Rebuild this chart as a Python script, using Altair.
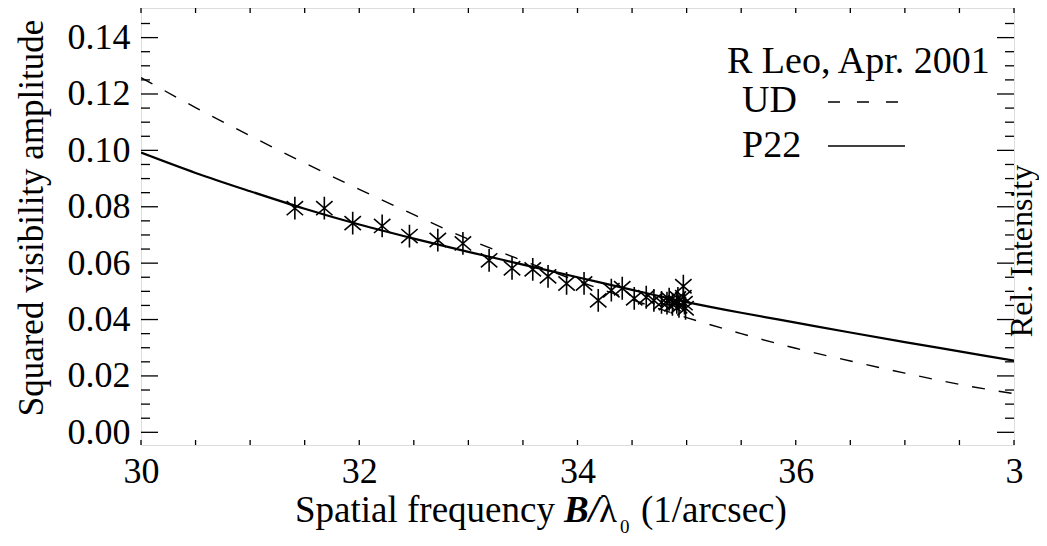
import altair as alt
import pandas as pd

# ---- data ----
grid_x = [30.0, 30.5, 31.0, 31.5, 32.0, 32.5, 33.0, 33.5, 34.0, 34.5,
          35.0, 35.5, 36.0, 36.5, 37.0, 37.5, 38.0]
ud_vals = [0.1258, 0.1152, 0.1052, 0.0955, 0.0862, 0.0772, 0.0685, 0.0609, 0.0537, 0.0470,
           0.0407, 0.0350, 0.0298, 0.0253, 0.0210, 0.0170, 0.0137]
p22_vals = [0.0992, 0.0920, 0.0855, 0.0793, 0.0737, 0.0687, 0.0640, 0.0595, 0.0550, 0.0505,
            0.0462, 0.0424, 0.0389, 0.0354, 0.0320, 0.0287, 0.0254]

obs_x = [31.41, 31.68, 31.94, 32.21, 32.46, 32.72, 32.95, 33.19, 33.40, 33.59,
         33.73, 33.90, 34.06, 34.19, 34.31, 34.41, 34.52, 34.63, 34.70, 34.77,
         34.82, 34.87, 34.91, 34.93, 34.97, 34.97, 34.98, 34.99, 34.84, 34.92]
obs_y = [0.0795, 0.0795, 0.0742, 0.0732, 0.0696, 0.0682, 0.0670, 0.0610, 0.0582, 0.0578,
         0.0553, 0.0528, 0.0528, 0.0468, 0.0504, 0.0511, 0.0475, 0.0479, 0.0468, 0.0461,
         0.0458, 0.0454, 0.0461, 0.0447, 0.0518, 0.0479, 0.0458, 0.0440, 0.0472, 0.0475]

x_major = [30, 32, 34, 36, 38]
x_minor = [30.5, 31, 31.5, 32.5, 33, 33.5, 34.5, 35, 35.5, 36.5, 37, 37.5]
y_major = [0.00, 0.02, 0.04, 0.06, 0.08, 0.10, 0.12, 0.14]
y_minor = [0.005, 0.01, 0.015, 0.025, 0.03, 0.035, 0.045, 0.05, 0.055, 0.065, 0.07, 0.075,
           0.085, 0.09, 0.095, 0.105, 0.11, 0.115, 0.125, 0.13, 0.135, 0.145]

legend_title = "R Leo, Apr. 2001"
legend_names = ["UD", "P22"]

# ---- layout / style ----
W, H = 873, 437
FONT = "Liberation Serif"
FS = 36
XDOM = [30, 38]
YDOM = [-0.0045, 0.1505]
xs = alt.Scale(domain=XDOM, nice=False, zero=False)
ys = alt.Scale(domain=YDOM, nice=False, zero=False)

AX = alt.Axis(values=x_major, labelExpr="datum.value == 38 ? '3' : format(datum.value, 'd')",
              ticks=False, tickSize=0, domain=False, grid=False, title=None,
              labelFont=FONT, labelFontSize=FS, labelColor="black", labelPadding=9,
              labelFlush=False)
AY = alt.Axis(values=y_major, format=".2f", ticks=False, tickSize=0, domain=False, grid=False,
              title=None, labelFont=FONT, labelFontSize=FS, labelColor="black", labelPadding=11)

curves = pd.DataFrame({"x": grid_x * 2,
                       "y": ud_vals + p22_vals,
                       "model": ["UD"] * len(grid_x) + ["P22"] * len(grid_x)})
obs = pd.DataFrame({"x": obs_x, "y": obs_y})

ud_line = alt.Chart(curves).transform_filter("datum.model == 'UD'").mark_line(
    color="black", strokeWidth=1.4, strokeDash=[13, 14], interpolate="monotone", clip=True
).encode(x=alt.X("x:Q", scale=xs, axis=AX), y=alt.Y("y:Q", scale=ys, axis=AY))

p22_line = alt.Chart(curves).transform_filter("datum.model == 'P22'").mark_line(
    color="black", strokeWidth=2.2, interpolate="monotone", clip=True
).encode(x=alt.X("x:Q", scale=xs, axis=AX), y=alt.Y("y:Q", scale=ys, axis=AY))

star = "M0,-1L0,1M-0.72,-0.62L0.72,0.62M-0.72,0.62L0.72,-0.62"
points = alt.Chart(obs).mark_point(
    shape=star, filled=False, color="black", strokeWidth=1.6, size=520, opacity=1
).encode(x=alt.X("x:Q", scale=xs, axis=AX), y=alt.Y("y:Q", scale=ys, axis=AY))

def yticks(vals, x1, x2):
    return alt.Chart(pd.DataFrame({"v": vals})).mark_rule(color="black", strokeWidth=1.3).encode(
        y=alt.Y("v:Q", scale=ys, axis=AY), x=alt.value(x1), x2=alt.value(x2))

def xticks(vals, y1, y2):
    return alt.Chart(pd.DataFrame({"v": vals})).mark_rule(color="black", strokeWidth=1.3).encode(
        x=alt.X("v:Q", scale=xs, axis=AX), y=alt.value(y1), y2=alt.value(y2))

tick_layers = [
    yticks(y_major, 0, 17), yticks(y_minor, 0, 9),
    yticks(y_major, W - 17, W), yticks(y_minor, W - 9, W),
    xticks(x_major + x_minor, H, H - 5), xticks(x_major + x_minor, 0, 5),
]

def text(t, x, y, size=FS, angle=0, align="left", weight="normal", style="normal"):
    return alt.Chart(pd.DataFrame({"t": [t]})).mark_text(
        font=FONT, fontSize=size, angle=angle, align=align, baseline="middle",
        fontWeight=weight, fontStyle=style, color="black"
    ).encode(text="t:N", x=alt.value(x), y=alt.value(y))

TS = 37
LS = 38
x0 = 154
annotations = [
    text(legend_title, 586, 54, size=LS),
    text(legend_names[0], 601, 93, size=LS),
    text(legend_names[1], 601, 138, size=LS),
    text("Squared visibility amplitude", -109, 210, size=35, angle=270, align="center"),
    text("Rel. Intensity", 881, 243, size=32, angle=270, align="center"),
    # x-axis title pieces
    text("Spatial frequency", x0, 503, size=TS),
    text("B/", x0 + 269, 503, size=TS, weight="bold", style="italic"),
    text("λ", x0 + 304, 503, size=TS),
    text("0", x0 + 325, 519, size=19),
    text("(1/arcsec)", x0 + 346, 503, size=TS),
]

leg = pd.DataFrame({"k": [0]})
ud_leg = alt.Chart(leg).mark_rule(color="black", strokeWidth=1.4, strokeDash=[12, 17]).encode(
    x=alt.value(687), x2=alt.value(760), y=alt.value(94))
p22_leg = alt.Chart(leg).mark_rule(color="black", strokeWidth=1.6).encode(
    x=alt.value(687), x2=alt.value(764), y=alt.value(138))

chart = alt.layer(
    points, ud_line, p22_line, *tick_layers, ud_leg, p22_leg, *annotations
).properties(
    width=W, height=H,
    autosize=alt.AutoSizeParams(type="none"),
    padding={"left": 133, "top": 0, "right": 25, "bottom": 93},
).configure_view(stroke="black", strokeWidth=1.6).configure(background="white")

chart.save("out.html", embed_options={"renderer": "svg", "actions": False})
